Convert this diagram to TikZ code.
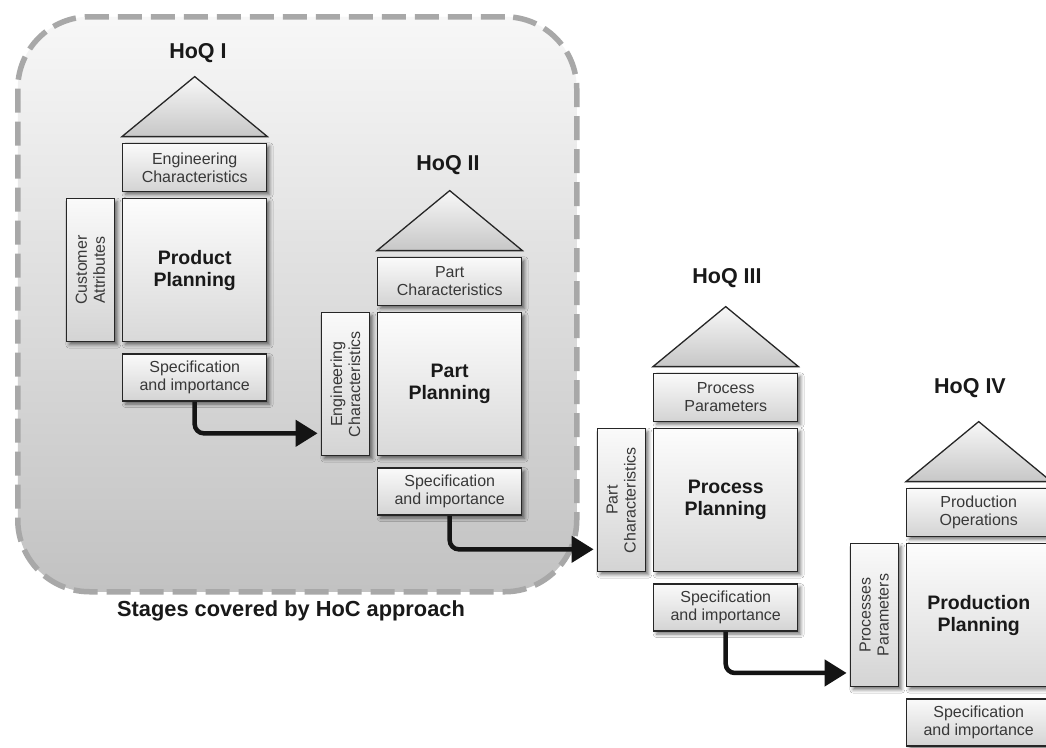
\documentclass[tikz,border=0pt]{standalone}
\usepackage{fontspec}
\setmainfont{Liberation Sans}
\usetikzlibrary{calc,arrows.meta,shadows.blur}

\tikzset{
  region/.style={draw=black!34, line width=5.5pt, dash pattern=on 24pt off 9pt,
    top color=black!3, bottom color=black!24, rounded corners=72pt,
    minimum width=559pt, minimum height=575pt, anchor=north west, inner sep=0pt},
  panel/.style={draw=black!85, line width=1.4pt, inner sep=0pt, align=center,
    top color=black!2, bottom color=black!17,
    blur shadow={shadow xshift=3pt, shadow yshift=-3pt, shadow blur radius=3.5pt, shadow opacity=55}},
  mainpanel/.style={panel, minimum width=144pt, minimum height=143pt,
    top color=black!1, bottom color=black!15,
    font=\fontsize{19.5}{22}\selectfont\bfseries, text=black!90},
  boxtext/.style={font=\fontsize{16}{18}\selectfont, text=black!78},
  hoqlabel/.style={font=\fontsize{21.5}{25}\selectfont\bfseries, text=black!90},
  roof/.style={draw=black!85, line width=1.3pt, top color=black!3, bottom color=black!22},
  flow/.style={draw=black!92, line width=4.5pt, rounded corners=9pt,
    -{Triangle[length=22pt,width=26pt]}, shorten >=3pt},
}

% One house of quality: #1 id, #2/#3 top-left corner of the matrix,
% #4/#5 title position, #6 title, #7 roof-side box, #8 left box, #9 matrix text
\newcommand\hoqunit[9]{%
  \node[mainpanel, anchor=north west] (main#1) at (#2,#3) {#9};
  \node[panel, boxtext, minimum width=144pt, minimum height=48pt, anchor=south west]
    (top#1) at ($(main#1.north west)+(0,-6)$) {#7};
  \node[panel, minimum width=48pt, minimum height=143pt, anchor=north east]
    (side#1) at ($(main#1.north west)+(-7,0)$) {};
  \node[boxtext, rotate=90, align=center] (side#1txt) at (side#1) {#8};
  \node[panel, boxtext, minimum width=144pt, minimum height=47pt, anchor=north]
    (spec#1) at ($(main#1.south)+(0,11)$) {Specification\\and importance};
  \node[hoqlabel] (title#1) at (#4,#5) {#6};
  \path[roof] ($(top#1.north west)+(0,-6)$) -- ($(top#1.north)+(0,-66)$)
    -- ($(top#1.north east)+(0,-6)$) -- cycle;
}

\begin{document}
\begin{tikzpicture}[x=1pt, y=-1pt]
  \useasboundingbox (0,0) rectangle (1046,747);
  \clip (0,0) rectangle (1046,747);
  \fill[white] (0,0) rectangle (1046,747);

  % area handled by the HoC approach
  \node[region] (stage) at (15,14) {};
  \node[font=\fontsize{21.8}{25}\selectfont\bfseries, text=black!90] (caption)
    at (291,611) {Stages covered by HoC approach};

  \hoqunit{1}{122}{198}{198}{53}{HoQ I}{Engineering\\Characteristics}{Customer\\Attributes}{Product\\Planning}
  \hoqunit{2}{377}{312}{448}{165}{HoQ II}{Part\\Characteristics}{Engineering\\Characteristics}{Part\\Planning}
  \hoqunit{3}{653}{428}{727}{278}{HoQ III}{Process\\Parameters}{Part\\Characteristics}{Process\\Planning}
  \hoqunit{4}{906}{543}{970}{388}{HoQ IV}{Production\\Operations}{Processes\\Parameters}{Production\\Planning}

  % outputs of one house feed the next
  \draw[flow] (spec1.south) |- ($(side2.north west)!0.84!(side2.south west)$);
  \draw[flow] (spec2.south) |- ($(side3.north west)!0.84!(side3.south west)$);
  \draw[flow] (spec3.south) |- ($(side4.north west)!0.90!(side4.south west)$);
\end{tikzpicture}
\end{document}
